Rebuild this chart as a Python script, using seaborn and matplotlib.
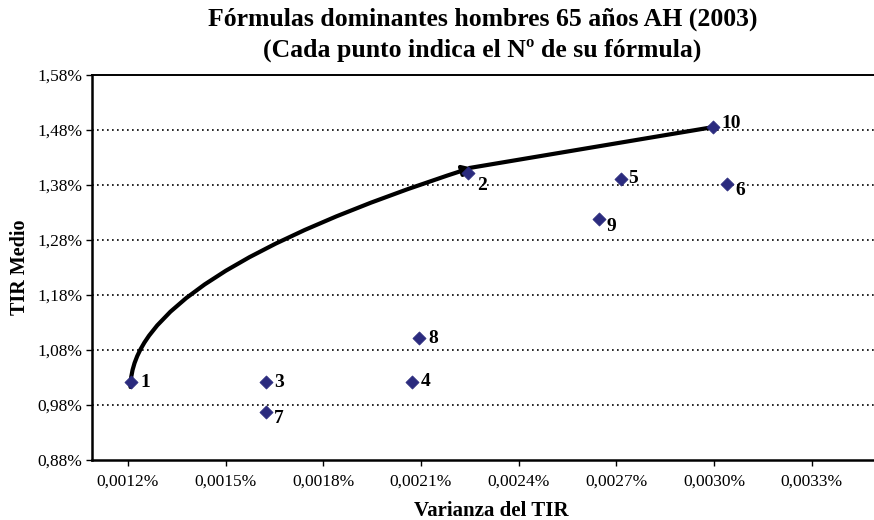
import matplotlib
matplotlib.use("Agg")
import matplotlib.pyplot as plt
import seaborn as sns
import numpy as np
import pandas as pd
from matplotlib.path import Path
from matplotlib.patches import FancyArrowPatch
from matplotlib.ticker import FuncFormatter, FixedLocator

# ---- data (x: Varianza del TIR in %, y: TIR medio in %) ----
formulas = ["1", "2", "3", "4", "5", "6", "7", "8", "9", "10"]
varianza = [0.001211, 0.002244, 0.001625, 0.002072, 0.002715, 0.003040, 0.001625, 0.002094, 0.002648, 0.002997]
tir_medio = [1.022, 1.401, 1.022, 1.022, 1.391, 1.3805, 0.9665, 1.1013, 1.317, 1.4845]
# label offsets in pixels (dx, dy)
label_dx = [9, 9, 8, 9, 7, 8, 8, 9, 7, 8]
label_dy = [-1, -12, -1, 0, 0, -6, -6, 0, -7, 4]

x_ticks = [0.0012, 0.0015, 0.0018, 0.0021, 0.0024, 0.0027, 0.0030, 0.0033]
y_ticks = [0.88, 0.98, 1.08, 1.18, 1.28, 1.38, 1.48, 1.58]

# efficient frontier: formula 1 -> (curve) -> formula 2 -> formula 10
frontier_start = 0          # index of formula 1
frontier_mid = 1            # index of formula 2
frontier_end = 9            # index of formula 10

df = pd.DataFrame({"formula": formulas, "varianza": varianza, "tir": tir_medio})

sns.set_style("white")
plt.rcParams["font.family"] = ["Liberation Serif", "DejaVu Serif"]
plt.rcParams["text.color"] = "black"
plt.rcParams["axes.labelcolor"] = "black"
plt.rcParams["xtick.color"] = "black"
plt.rcParams["ytick.color"] = "black"

fig = plt.figure(figsize=(8.74, 5.2), dpi=100)
ax = fig.add_axes([0.1053, 0.1154, 0.8947 + 0.02, 0.7413])

ax.set_xlim(0.0010898, 0.003545)
ax.set_ylim(0.88, 1.58)

# gridlines
for yv in y_ticks[1:-1]:
    ax.axhline(yv, color="black", lw=1.2, ls=(0, (1, 2)), zorder=1)

# frontier curve (quadratic Bezier with vertical tangent at formula 1)
x0, y0 = varianza[frontier_start] - 0.000003, tir_medio[frontier_start] - 0.0095
x2, y2 = varianza[frontier_mid] + 0.000012, tir_medio[frontier_mid] + 0.010
xc, yc = x0, (y0 + y2) / 2
curve = Path([(x0, y0), (xc, yc), (x2, y2)], [Path.MOVETO, Path.CURVE3, Path.CURVE3])
arrow = FancyArrowPatch(path=curve, arrowstyle="-|>,head_length=5,head_width=3",
                        color="black", lw=3.0, zorder=3, shrinkA=0, shrinkB=0)
ax.add_patch(arrow)
ax.plot([varianza[frontier_mid] + 0.000002, varianza[frontier_end]],
        [tir_medio[frontier_mid] + 0.009, tir_medio[frontier_end]],
        color="black", lw=3.0, solid_capstyle="butt", zorder=3)

sns.scatterplot(data=df, x="varianza", y="tir", marker="D", s=45,
                color="#2B2B7E", edgecolor="#2B2B7E", linewidth=0.5, ax=ax, zorder=4)

for i, lab in enumerate(formulas):
    ax.annotate(lab, (varianza[i], tir_medio[i]), xytext=(label_dx[i], label_dy[i]),
                textcoords="offset pixels", ha="left", va="center",
                fontsize=14, fontweight="bold", color="black", zorder=5)

ax.xaxis.set_major_locator(FixedLocator(x_ticks))
ax.yaxis.set_major_locator(FixedLocator(y_ticks))
ax.xaxis.set_major_formatter(FuncFormatter(lambda v, p: f"{v:.4f}%".replace(".", ",")))
ax.yaxis.set_major_formatter(FuncFormatter(lambda v, p: f"{v:.2f}%".replace(".", ",")))
ax.tick_params(axis="both", which="major", direction="out", length=4, width=1,
               color="black", labelsize=12.5, labelcolor="black")
ax.tick_params(axis="x", pad=6)
ax.tick_params(axis="y", pad=3)
ax.tick_params(bottom=True, left=True)

for s in ["left", "bottom"]:
    ax.spines[s].set_color("black")
    ax.spines[s].set_linewidth(1.8)
ax.spines["top"].set_color("black")
ax.spines["top"].set_linewidth(1.4)
ax.spines["right"].set_visible(False)

ax.set_xlabel("Varianza del TIR", fontsize=15, fontweight="bold", labelpad=8, color="black")
ax.set_ylabel("TIR Medio", fontsize=14.5, fontweight="bold", labelpad=5, color="black")

fig.text(0.552, 0.962, "Fórmulas dominantes hombres 65 años AH (2003)",
         ha="center", va="center", fontsize=18.5, fontweight="bold", color="black")
fig.text(0.552, 0.903, "(Cada punto indica el Nº de su fórmula)",
         ha="center", va="center", fontsize=18.5, fontweight="bold", color="black")

fig.savefig("out.png", dpi=100)
